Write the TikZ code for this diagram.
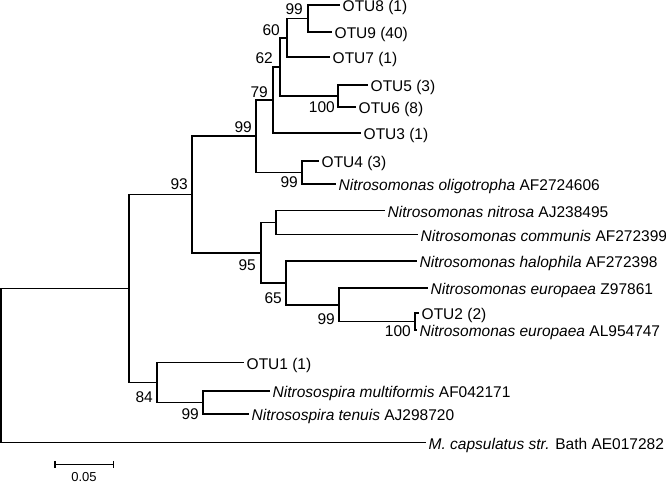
\documentclass[tikz,border=0pt]{standalone}
\usepackage{fontspec}
\setmainfont{Liberation Sans}
\begin{document}
\begin{tikzpicture}[x=1pt,y=-1pt,
  br/.style={line width=1.7pt, line cap=rect},
  leaf/.style={anchor=west, inner sep=0pt, xshift=3.5pt, yshift=-1pt, text height=11pt, text depth=0pt, font=\fontsize{15.5}{17}\selectfont},
  bs/.style={anchor=east, inner sep=0pt, text height=11pt, text depth=0pt, font=\fontsize{15.5}{17}\selectfont}]
\useasboundingbox (0,0) rectangle (666,483);
% leaf ends
\coordinate (l8) at (339,5);
\coordinate (l9) at (331,32);
\coordinate (l7) at (329,57);
\coordinate (l5) at (367,85);
\coordinate (l6) at (355,107);
\coordinate (l3) at (360,133);
\coordinate (l4) at (318,161);
\coordinate (lolig) at (335,184);
\coordinate (lnitrosa) at (384,210.5);
\coordinate (lcomm) at (417,234.5);
\coordinate (lhalo) at (416,261);
\coordinate (leuZ) at (427,288);
\coordinate (l2) at (418,313);
\coordinate (leuAL) at (416,330);
\coordinate (l1) at (243,362.5);
\coordinate (lmulti) at (269,391);
\coordinate (ltenuis) at (248,414);
\coordinate (lmc) at (425,442.5);
% leaf labels
\node[leaf] (t8) at (l8) {OTU8 (1)};
\node[leaf] (t9) at (l9) {OTU9 (40)};
\node[leaf] (t7) at (l7) {OTU7 (1)};
\node[leaf] (t5) at (l5) {OTU5 (3)};
\node[leaf] (t6) at (l6) {OTU6 (8)};
\node[leaf] (t3) at (l3) {OTU3 (1)};
\node[leaf] (t4) at (l4) {OTU4 (3)};
\node[leaf] (tolig) at (lolig) {\textit{Nitrosomonas oligotropha} AF2724606};
\node[leaf] (tnitrosa) at (lnitrosa) {\textit{Nitrosomonas nitrosa} AJ238495};
\node[leaf] (tcomm) at (lcomm) {\textit{Nitrosomonas communis} AF272399};
\node[leaf] (thalo) at (lhalo) {\textit{Nitrosomonas halophila} AF272398};
\node[leaf] (teuZ) at (leuZ) {\textit{Nitrosomonas europaea} Z97861};
\node[leaf] (t2) at (l2) {OTU2 (2)};
\node[leaf] (teuAL) at (leuAL) {\textit{Nitrosomonas europaea} AL954747};
\node[leaf] (t1) at (l1) {OTU1 (1)};
\node[leaf] (tmulti) at (lmulti) {\textit{Nitrosospira multiformis} AF042171};
\node[leaf] (ttenuis) at (ltenuis) {\textit{Nitrosospira tenuis} AJ298720};
\node[leaf] (tmc) at (lmc) {\textit{M. capsulatus str.} Bath AE017282};
% internal nodes
\coordinate (n99a) at (308,18.5);
\coordinate (n60) at (287,38);
\coordinate (n100a) at (338,96);
\coordinate (n62) at (280,67);
\coordinate (n79) at (273,100);
\coordinate (n99c) at (302,172.5);
\coordinate (n99b) at (256,136);
\coordinate (nB) at (276,222.5);
\coordinate (n100b) at (415,321.5);
\coordinate (n99e) at (339,305);
\coordinate (n65) at (286,283);
\coordinate (n95) at (261,253);
\coordinate (n93) at (192,194.5);
\coordinate (n99d) at (203,402.5);
\coordinate (n84) at (157,382.5);
\coordinate (nA) at (129,288.5);
\coordinate (root) at (0.9,365.5);
% branches
\draw[br] (n99a) |- (l8);
\draw[br] (n99a) |- (l9);
\draw[br] (n60) |- (n99a);
\draw[br] (n60) |- (l7);
\draw[br] (n100a) |- (l5);
\draw[br] (n100a) |- (l6);
\draw[br] (n62) |- (n60);
\draw[br] (n62) |- (n100a);
\draw[br] (n79) |- (n62);
\draw[br] (n79) |- (l3);
\draw[br] (n99c) |- (l4);
\draw[br] (n99c) |- (lolig);
\draw[br] (n99b) |- (n79);
\draw[br] (n99b) |- (n99c);
\draw[br] (nB) |- (lnitrosa);
\draw[br] (nB) |- (lcomm);
\draw[br] (n100b) |- (l2);
\draw[br] (n100b) |- (leuAL);
\draw[br] (n99e) |- (leuZ);
\draw[br] (n99e) |- (n100b);
\draw[br] (n65) |- (lhalo);
\draw[br] (n65) |- (n99e);
\draw[br] (n95) |- (nB);
\draw[br] (n95) |- (n65);
\draw[br] (n93) |- (n99b);
\draw[br] (n93) |- (n95);
\draw[br] (n99d) |- (lmulti);
\draw[br] (n99d) |- (ltenuis);
\draw[br] (n84) |- (l1);
\draw[br] (n84) |- (n99d);
\draw[br] (nA) |- (n93);
\draw[br] (nA) |- (n84);
\draw[br] (root) |- (nA);
\draw[br] (root) |- (lmc);
% bootstrap values
\node[bs] (b99a) at (303,9) {99};
\node[bs] (b60) at (280,29.5) {60};
\node[bs] (b62) at (273,58) {62};
\node[bs] (b100a) at (335,107) {100};
\node[bs] (b79) at (268,92) {79};
\node[bs] (b99b) at (252,127) {99};
\node[bs] (b99c) at (298,182) {99};
\node[bs] (b93) at (188,184) {93};
\node[bs] (b95) at (256,265) {95};
\node[bs] (b65) at (282,298) {65};
\node[bs] (b99e) at (335,319) {99};
\node[bs] (b100b) at (411,331) {100};
\node[bs] (b84) at (153,397) {84};
\node[bs] (b99d) at (199,414) {99};
% scale bar
\coordinate (sb1) at (55,464.3);
\coordinate (sb2) at (113.3,464.3);
\draw[line width=1.5pt] (sb1) -- (sb2);
\draw[line width=1.5pt] ([yshift=3.5pt]sb1) -- ([yshift=-3.5pt]sb1);
\draw[line width=1.5pt] ([yshift=3.5pt]sb2) -- ([yshift=-3.5pt]sb2);
\node[inner sep=0pt, text height=9pt, text depth=0pt, font=\fontsize{13}{15}\selectfont] (sblab) at (84,477) {0.05};
\end{tikzpicture}
\end{document}
